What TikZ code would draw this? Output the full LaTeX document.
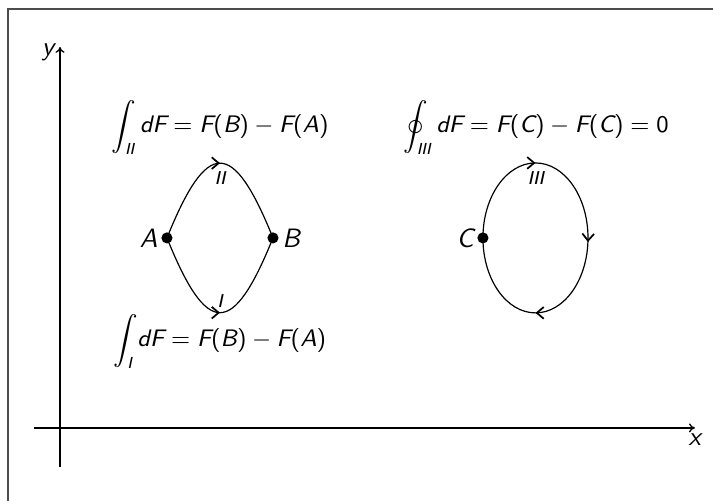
\documentclass[tikz,border=0pt]{standalone}
\usepackage{amsmath}
\DeclareSymbolFont{operators}{TU}{lmss}{m}{n}
\DeclareSymbolFont{letters}{TU}{lmss}{m}{sl}
\usetikzlibrary{arrows.meta}
\usetikzlibrary{decorations.markings}
\usetikzlibrary{positioning}
\tikzset{
    % 坐标轴
    axisline/.style={
        line width=0.5pt,
        black,
        -{To[length=2.2pt, width=3.4pt]}
    },
    % 回路曲线
    loopline/.style={
        line width=0.45pt,
        black
    },
    looptip/.tip={Straight Barb[length=2.6pt, width=4.4pt, line width=0.65pt]},
    midarrow/.style={
        postaction={decorate},
        decoration={markings,
            mark=at position #1 with {\arrow{looptip}}}
    },
    dot/.style={
        circle,
        fill=black,
        inner sep=0pt,
        minimum size=4.2pt
    },
    pathname/.style={
        inner sep=1pt,
        font=\scriptsize
    },
    formula/.style={
        anchor=base,
        font=\small
    }
}

\begin{document}
\begin{tikzpicture}
    \useasboundingbox (-0.794,-0.966) rectangle (8.640,5.662);

    % 边框
    \draw[line width=0.6pt, black!70] (-0.688,-0.966) -- (-0.688,5.543) -- (8.640,5.543);

    \path
    (-0.344,0) coordinate (x0)
    (8.400,0) coordinate (x1)
    (0,-0.516) coordinate (y0)
    (0,5.040) coordinate (y1)
    (1.415,2.514) coordinate (a)
    (2.818,2.514) coordinate (b)
    (2.117,3.506) coordinate (top1)
    (2.117,1.521) coordinate (bot1)
    (5.596,2.514) coordinate (c)
    (6.297,3.506) coordinate (top3)
    (6.297,2.514) coordinate (mid3);

    % 坐标轴
    \draw[axisline] (x0) -- (x1);
    \draw[axisline] (y0) -- (y1);
    \node[below=1pt of x1, inner sep=1pt] (xlab) {$x$};
    \node[left=1pt of y1, yshift=-2pt, inner sep=1pt] (ylab) {$y$};

    % 路径 I 和 II
    \draw[loopline, midarrow=0.5] (a) to[out=68,in=112,looseness=2.6] (b);
    \draw[loopline, midarrow=0.5] (a) to[out=-68,in=-112,looseness=2.6] (b);

    % 闭合路径 III
    \draw[loopline, postaction={decorate},
        decoration={markings,
            mark=at position 0.25 with {\arrow{looptip}},
            mark=at position 0.51 with {\arrow{looptip}},
            mark=at position 0.75 with {\arrow{looptip}}}]
        (c) arc[start angle=180, end angle=-180, x radius=0.695, y radius=0.992];

    % 端点
    \node[dot] (A) at (a) {};
    \node[dot] (B) at (b) {};
    \node[dot] (C) at (c) {};
    \node[left=0pt of A, inner sep=1pt] (labA) {$A$};
    \node[right=0pt of B, inner sep=1pt] (labB) {$B$};
    \node[left=0pt of C, inner sep=1pt] (labC) {$C$};
    \node[pathname, below=2pt of top1] (labII) {$II$};
    \node[pathname, above=1pt of bot1] (labI) {$I$};
    \node[pathname, below=2pt of top3] (labIII) {$III$};

    % 积分式
    \node[formula] (eqII) at (2.117,3.903) {$\displaystyle\int_{II} dF = F(B)-F(A)$};
    \node[formula] (eqI) at (2.117,1.072) {$\displaystyle\int_{I} dF = F(B)-F(A)$};
    \node[formula] (eqIII) at (6.297,3.903) {$\displaystyle\oint_{III} dF = F(C)-F(C)=0$};

\end{tikzpicture}
\end{document}
